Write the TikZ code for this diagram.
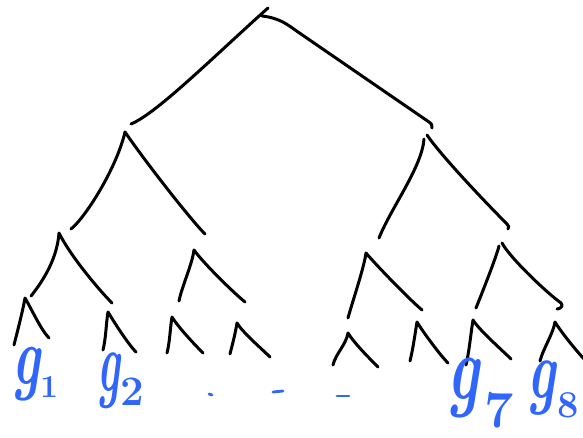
\documentclass[tikz,border=0pt]{standalone}
\usepackage{graphicx}
\definecolor{ink}{RGB}{48,102,250}
\begin{document}
\begin{tikzpicture}[x=1pt,y=-1pt,
  br/.style={line width=3pt, line cap=round, line join=round, black},
  inkmark/.style={line width=2.8pt, line cap=round, ink},
  lab/.style={text=ink, inner sep=0pt, anchor=base west, font=\bfseries}]
\clip (0,0) rectangle (583,438);
% ---- coordinates ----
\coordinate (r0) at (268,8);   \coordinate (r) at (258,17);
\coordinate (rR) at (262,16);  \coordinate (rk) at (298,32);
\coordinate (e1) at (131,124); \coordinate (e2) at (429,122); \coordinate (e2h) at (432,128);
\coordinate (a1) at (125,132); \coordinate (a1l) at (71,229);  \coordinate (a1r) at (205,234);
\coordinate (a2) at (424,139); \coordinate (a2b) at (427,135);
\coordinate (a2l) at (379,238); \coordinate (a2r) at (507,224); \coordinate (a2h) at (508,229);
\coordinate (b1) at (59,233);  \coordinate (b1l) at (31,296);  \coordinate (b1r) at (112,303);
\coordinate (b2) at (194,250); \coordinate (b2l) at (179,301); \coordinate (b2r) at (245,302);
\coordinate (b3) at (366,253); \coordinate (b3l) at (348,318); \coordinate (b3r) at (422,310);
\coordinate (b4) at (499,246); \coordinate (b4b) at (502,243);
\coordinate (b4l) at (476,308); \coordinate (b4r) at (561,303); \coordinate (b4h) at (557,309);
\coordinate (c1) at (25,298);  \coordinate (c1l) at (14,345);  \coordinate (c1r) at (49,338);
\coordinate (c2) at (108,312); \coordinate (c2l) at (103,350); \coordinate (c2r) at (136,352);
\coordinate (c3) at (172,317); \coordinate (c3l) at (167,353); \coordinate (c3r) at (203,353);
\coordinate (c4) at (237,323); \coordinate (c4l) at (230,354); \coordinate (c4r) at (270,357);
\coordinate (c5) at (348,333); \coordinate (c5l) at (333,365); \coordinate (c5r) at (378,367);
\coordinate (c6) at (417,322); \coordinate (c6l) at (410,361); \coordinate (c6r) at (448,363);
\coordinate (c7) at (473,320); \coordinate (c7l) at (466,365); \coordinate (c7r) at (511,359);
\coordinate (c8) at (555,322); \coordinate (c8l) at (540,361); \coordinate (c8r) at (586,361);
% ---- root ----
\draw[br] (r0) -- (r) .. controls +(-55,50) and +(24,-10) .. (e1);
\draw[br] (rR) .. controls +(18,2) and +(-10,-7) .. (rk) -- (e2) .. controls +(3,2) and +(0,-3) .. (e2h);
% ---- level 1 ----
\draw[br] (a1l) .. controls +(15,-12) and +(-8,35) .. (a1) .. controls +(22,32) and +(-14,-14) .. (a1r);
\draw[br] (a2l) .. controls +(12,-30) and +(-2,28) .. (a2);
\draw[br] (a2b) .. controls +(15,22) and +(-18,-18) .. (a2r) .. controls +(2,2) and +(1,-2) .. (a2h);
% ---- level 2 ----
\draw[br] (b1l) .. controls +(8,-10) and +(-2,29) .. (b1) .. controls +(12,24) and +(-12,-12) .. (b1r);
\draw[br] (b2l) .. controls +(3,-15) and +(-2,15) .. (b2) .. controls +(10,14) and +(-10,-8) .. (b2r);
\draw[br] (b3l) .. controls +(4,-15) and +(-2,15) .. (b3) .. controls +(10,12) and +(-12,-10) .. (b3r);
\draw[br] (b4l) .. controls +(6,-15) and +(-3,12) .. (b4);
\draw[br] (b4b) .. controls +(8,15) and +(-14,-10) .. (b4r) .. controls +(3,3) and +(3,0) .. (b4h);
% ---- leaves ----
\foreach \n in {1,...,8}{
  \draw[br] (c\n l) .. controls +(3,-12) and +(-2,12) .. (c\n) .. controls +(6,10) and +(-8,-8) .. (c\n r);
}
% ---- labels ----
\node[lab] (g1g) at (12,384) {\scalebox{0.7}[1.1]{\fontsize{75}{75}\selectfont\itshape g}};
\node[lab] (g1n) at (40,397) {\fontsize{32}{32}\selectfont 1};
\node[lab] (g2g) at (97,391) {\scalebox{0.55}[1.1]{\fontsize{78}{78}\selectfont\itshape g}};
\node[lab] (g2n) at (120,405) {\fontsize{42}{42}\selectfont 2};
\node[lab] (g7g) at (447,399) {\scalebox{0.75}[1.15]{\fontsize{80}{80}\selectfont\itshape g}};
\node[lab] (g7n) at (484,427) {\fontsize{52}{52}\selectfont 7};
\node[lab] (g8g) at (527,398) {\scalebox{0.7}[1.1]{\fontsize{76}{76}\selectfont\itshape g}};
\node[lab] (g8n) at (557,417) {\fontsize{38}{38}\selectfont 8};
% ---- dots ----
\coordinate (d1a) at (209,394); \coordinate (d1b) at (212,395);
\coordinate (d2a) at (273,392); \coordinate (d2b) at (283,391);
\coordinate (d3a) at (337,396); \coordinate (d3b) at (349,396);
\draw[inkmark] (d1a) -- (d1b);
\draw[inkmark] (d2a) -- (d2b);
\draw[inkmark] (d3a) -- (d3b);
\end{tikzpicture}
\end{document}
